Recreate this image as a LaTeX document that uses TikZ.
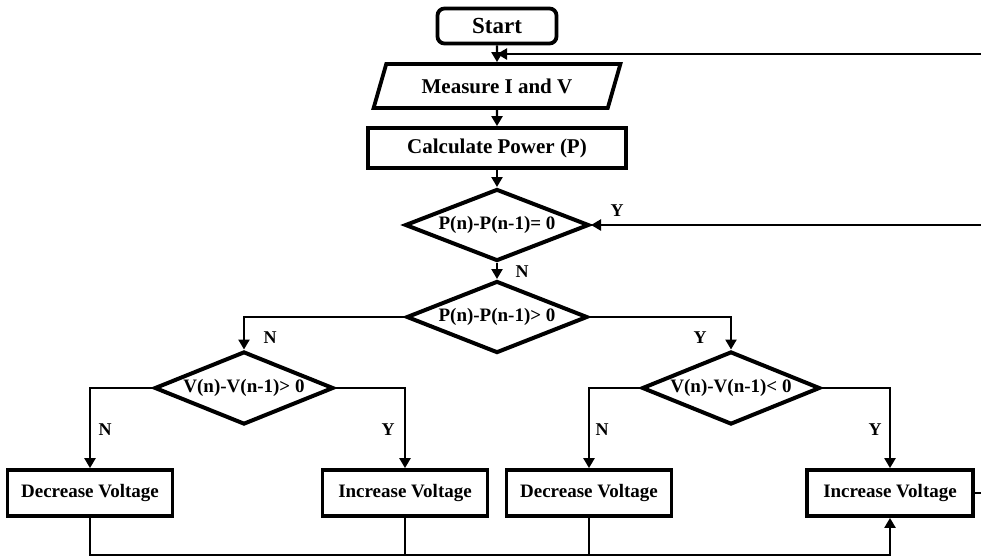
\documentclass[tikz,border=0pt]{standalone}
\usepackage{fontspec}
\setmainfont{Liberation Serif}
\usetikzlibrary{shapes.geometric,arrows.meta}
\begin{document}
\begin{tikzpicture}[x=1pt,y=-1pt,
  box/.style={draw,line width=3.8pt,inner sep=0pt,minimum width=165pt,minimum height=46pt,font=\fontsize{19}{22}\selectfont\bfseries},
  dec/.style={draw,diamond,line width=4pt,inner sep=0pt,aspect=2.5,minimum width=184pt,minimum height=72pt,font=\fontsize{19}{22}\selectfont\bfseries},
  para/.style={draw,trapezium,trapezium left angle=60,trapezium right angle=120,trapezium stretches=true,line width=3.8pt,inner sep=0pt,minimum width=247pt,minimum height=44pt,font=\fontsize{21}{24}\selectfont\bfseries},
  conn/.style={line width=2.3pt,-{Triangle[length=10pt,width=11pt]}},
  plain/.style={line width=2.3pt},
  lab/.style={font=\fontsize{18}{20}\selectfont\bfseries}]
\useasboundingbox (0,0) rectangle (981,558);
% nodes
\node[box,rounded corners=7pt,minimum width=119pt,minimum height=35pt,font=\fontsize{23}{26}\selectfont\bfseries] (start) at (497,26) {Start};
\node[para] (meas) at (497,86) {Measure I and V};
\node[box,minimum width=258pt,minimum height=40pt,font=\fontsize{21}{24}\selectfont\bfseries] (calc) at (497,148) {Calculate Power (P)};
\node[dec] (d1) at (497,225) {P(n)-P(n-1)= 0};
\node[dec,minimum width=181pt] (d2) at (497,317) {P(n)-P(n-1)> 0};
\node[dec,minimum width=179pt,minimum height=73pt] (d3) at (244,388) {V(n)-V(n-1)> 0};
\node[dec,minimum width=178pt,minimum height=73pt] (d4) at (731,388) {V(n)-V(n-1)< 0};
\node[box] (b1) at (90,493) {Decrease Voltage};
\node[box] (b2) at (405,493) {Increase Voltage};
\node[box] (b3) at (589,493) {Decrease Voltage};
\node[box,minimum width=166pt] (b4) at (890,493) {Increase Voltage};
% edge coordinates
\coordinate (r1) at (981,54);
\coordinate (r2) at (981,225);
\coordinate (r3) at (981,493);
\coordinate (yb) at (0,555);
% connectors
\draw[conn] (start.south) -- (meas.north);
\draw[conn] (r1) -- (r1 -| start.south);
\draw[conn] (meas.south) -- (calc.north);
\draw[conn] (calc.south) -- (d1.north);
\draw[conn] (r2) -- (d1.east);
\draw[conn] (d1.south) -- (d2.north);
\draw[conn] (d2.west) -| (d3.north);
\draw[conn] (d2.east) -| (d4.north);
\draw[conn] (d3.west) -| (b1.north);
\draw[conn] (d3.east) -| (b2.north);
\draw[conn] (d4.west) -| (b3.north);
\draw[conn] (d4.east) -| (b4.north);
\draw[conn] (b1.south) -- (b1.south |- yb) -- (b4.south |- yb) -- (b4.south);
\draw[plain] (b2.south) -- (b2.south |- yb);
\draw[plain] (b3.south) -- (b3.south |- yb);
\draw[plain] (b4.east) -- (r3);
% labels
\node[lab] (ly1) at (617,211) {Y};
\node[lab] (ln1) at (522,272) {N};
\node[lab] (ln2) at (270,338) {N};
\node[lab] (ly2) at (700,338) {Y};
\node[lab] (ln3) at (105,430) {N};
\node[lab] (ly3) at (388,430) {Y};
\node[lab] (ln4) at (602,430) {N};
\node[lab] (ly4) at (875,430) {Y};
\end{tikzpicture}
\end{document}
